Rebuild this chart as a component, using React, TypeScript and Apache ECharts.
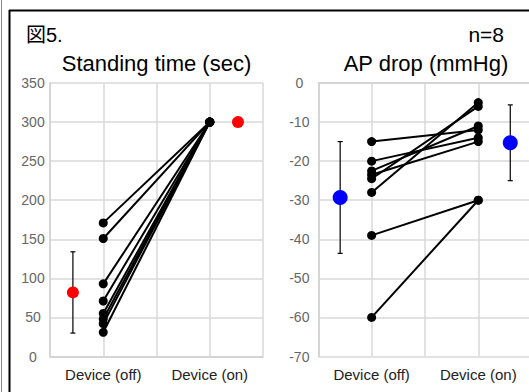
import React, { useEffect, useRef } from "react";
import * as echarts from "echarts";

// ---- data ----
const xCategoryLabels = ["Device (off)", "Device (on)"];
const xCategoryPos = [1, 3];

const standOff = [171, 151, 93, 71, 55, 48, 42, 31];
const standOn = [300, 300, 300, 300, 300, 300, 300, 300];
const standMeanX = [0.43, 3.53];
const standMean = [82, 300];
const standSD = [52, 0];

const apOff = [-15, -20, -22.5, -23.5, -24.5, -28, -39, -60];
const apOn = [-12, -14, -11, -15, -6, -5, -30, -30];
const apMeanX = [0.41, 3.6];
const apMean = [-29.3, -15.3];
const apSD = [14.3, 9.7];

const FONT = "'Liberation Sans', Arial, 'Noto Sans CJK JP', sans-serif";

function pairSeries(off: number[], on: number[], idx: number) {
  return off.map((v, i) => ({
    type: "line",
    xAxisIndex: idx,
    yAxisIndex: idx,
    data: [
      [xCategoryPos[0], v],
      [xCategoryPos[1], on[i]],
    ],
    symbol: "circle",
    symbolSize: 9,
    lineStyle: { color: "#000", width: 2 },
    itemStyle: { color: "#000" },
    z: 3,
    silent: true,
  }));
}

function errorSeries(xs: number[], means: number[], sds: number[], idx: number) {
  return {
    type: "custom",
    xAxisIndex: idx,
    yAxisIndex: idx,
    data: xs.map((x, i) => [x, means[i], sds[i]]),
    encode: { x: 0, y: 1 },
    z: 4,
    silent: true,
    renderItem: (params: any, api: any) => {
      const x = api.value(0);
      const y = api.value(1);
      const sd = api.value(2);
      if (!sd) return { type: "group", children: [] };
      const top = api.coord([x, y + sd]);
      const bot = api.coord([x, y - sd]);
      const st = { stroke: "#000", lineWidth: 1.2 };
      return {
        type: "group",
        children: [
          { type: "line", shape: { x1: top[0], y1: top[1], x2: bot[0], y2: bot[1] }, style: st },
          { type: "line", shape: { x1: top[0] - 2.5, y1: top[1], x2: top[0] + 2.5, y2: top[1] }, style: st },
          { type: "line", shape: { x1: bot[0] - 2.5, y1: bot[1], x2: bot[0] + 2.5, y2: bot[1] }, style: st },
        ],
      };
    },
  };
}

function meanSeries(xs: number[], means: number[], idx: number, color: string, size: number) {
  return {
    type: "scatter",
    xAxisIndex: idx,
    yAxisIndex: idx,
    data: xs.map((x, i) => [x, means[i]]),
    symbol: "circle",
    symbolSize: size,
    itemStyle: { color, opacity: 1 },
    z: 5,
    silent: true,
  };
}

function xAxis(idx: number) {
  return {
    type: "value",
    gridIndex: idx,
    min: 0,
    max: 4,
    interval: 1,
    axisLine: { show: true, lineStyle: { color: "#d0d0d0", width: 1.5 } },
    axisTick: { show: false },
    splitLine: { show: true, lineStyle: { color: "#d9d9d9", width: 1.5 } },
    axisLabel: {
      margin: 10,
      fontSize: 15,
      color: "#222",
      fontFamily: FONT,
      formatter: (v: number) => {
        const k = xCategoryPos.indexOf(v);
        return k >= 0 ? xCategoryLabels[k] : "";
      },
    },
  };
}

function yAxis(idx: number, min: number, max: number, interval: number, margin: number) {
  return {
    type: "value",
    gridIndex: idx,
    min,
    max,
    interval,
    axisLine: { show: true, lineStyle: { color: "#d0d0d0", width: 1.5 } },
    axisTick: { show: false },
    splitLine: { show: true, lineStyle: { color: "#d9d9d9", width: 1.5 } },
    axisLabel: {
      margin,
      align: "center",
      fontSize: 14,
      color: "#666",
      fontFamily: FONT,
    },
  };
}

export default function App() {
  const ref = useRef<HTMLDivElement>(null);
  useEffect(() => {
    if (!ref.current) return;
    const chart = echarts.init(ref.current, null, { renderer: "svg" });
    chart.setOption({
      animation: false,
      backgroundColor: "#fff",
      textStyle: { fontFamily: FONT },
      grid: [
        { left: 50, top: 83, width: 213, height: 273.5 },
        { left: 318.3, top: 83, width: 213.3, height: 273.5 },
      ],
      xAxis: [xAxis(0), xAxis(1)],
      yAxis: [yAxis(0, 0, 350, 50, 17), yAxis(1, -70, 0, 10, 19)],
      graphic: [
        { type: "line", shape: { x1: 1.5, y1: 0, x2: 1.5, y2: 392 }, style: { stroke: "#888", lineWidth: 1 } },
        { type: "line", shape: { x1: 9.5, y1: 10, x2: 9.5, y2: 392 }, style: { stroke: "#000", lineWidth: 2 } },
        { type: "line", shape: { x1: 9, y1: 10.5, x2: 529, y2: 10.5 }, style: { stroke: "#000", lineWidth: 2 } },
        {
          type: "text",
          x: 26,
          y: 35,
          style: { text: "図5.", fontSize: 20, fill: "#000", fontFamily: FONT, textVerticalAlign: "middle" },
        },
        {
          type: "text",
          x: 504,
          y: 34,
          style: { text: "n=8", fontSize: 21, fill: "#000", fontFamily: FONT, textAlign: "right", textVerticalAlign: "middle" },
        },
        {
          type: "text",
          x: 156.5,
          y: 63,
          style: { text: "Standing time (sec)", fontSize: 22, fill: "#000", fontFamily: FONT, textAlign: "center", textVerticalAlign: "middle" },
        },
        {
          type: "text",
          x: 426,
          y: 63,
          style: { text: "AP drop (mmHg)", fontSize: 22, fill: "#000", fontFamily: FONT, textAlign: "center", textVerticalAlign: "middle" },
        },
      ],
      series: [
        ...pairSeries(standOff, standOn, 0),
        ...pairSeries(apOff, apOn, 1),
        errorSeries(standMeanX, standMean, standSD, 0),
        errorSeries(apMeanX, apMean, apSD, 1),
        meanSeries(standMeanX, standMean, 0, "#ff0000", 12),
        meanSeries(apMeanX, apMean, 1, "#0000ff", 15),
      ],
    });
    return () => chart.dispose();
  }, []);
  return (
    <div
      ref={ref}
      style={{ position: "fixed", left: 0, top: 0, width: 536, height: 392, background: "#fff" }}
    />
  );
}
